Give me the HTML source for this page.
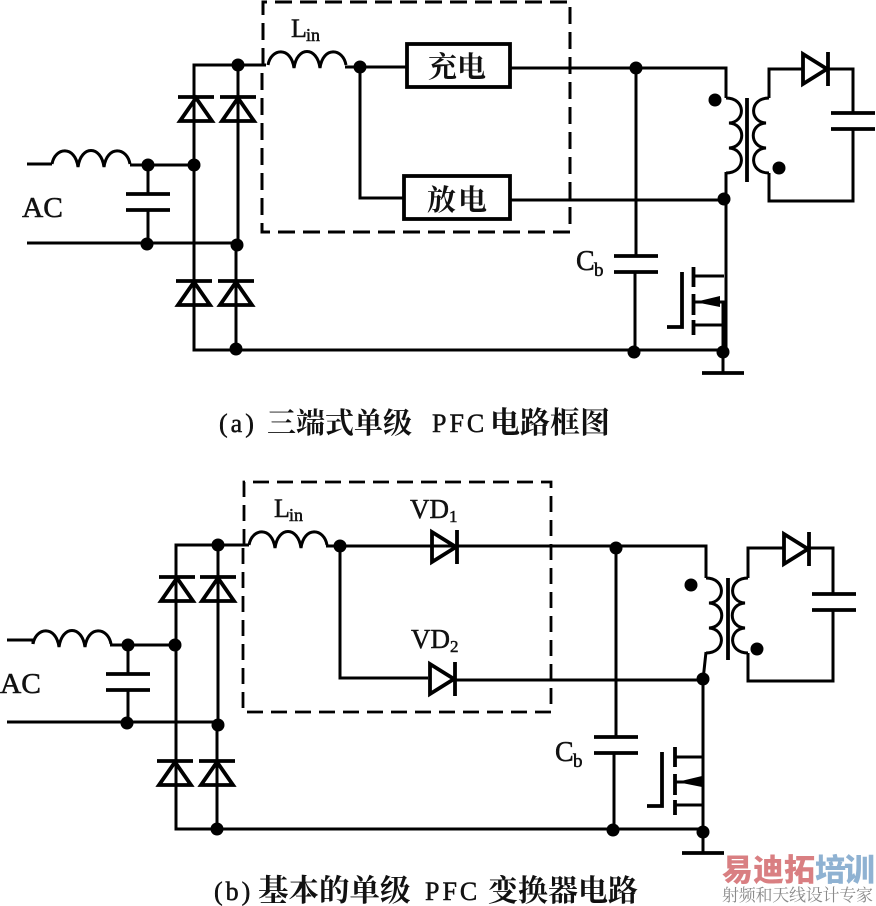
<!DOCTYPE html>
<html><head><meta charset="utf-8"><style>
html,body{margin:0;padding:0;background:#fff}
svg{display:block}
text{font-family:"Liberation Serif","Noto Serif CJK SC",serif;fill:#111}
.s{fill:none;stroke:#000;stroke-width:3}
.t{stroke:#000;stroke-width:3.8;fill:none}
.m{stroke:#111;stroke-width:.5}
.w{letter-spacing:3px}
</style></head><body>
<svg width="876" height="906" viewBox="0 0 876 906" xmlns="http://www.w3.org/2000/svg">
<defs>
<g id="du" class="t"><path d="M-18,0H18"/><path d="M0,1L-16,24H16Z"/></g>
<g id="dr" class="t"><path d="M26,-17V17"/><path d="M25,0L1,-15V15Z"/></g>
<g id="c" class="t"><path d="M-22,0H22M-22,16H22"/></g>
<circle id="d" r="6.500" fill="#000"/>
<path id="lh" class="s" d="M0,0C3,-17 23,-19 26,3C29,-19 49,-19 52,3C55,-19 75,-17 78,0"/>
<path id="lr" class="s" d="M0,0C20,0 20,24 3,25C20,26 20,49 3,50C20,51 20,75 0,75"/>
<path id="ll" class="s" d="M0,0C-20,0 -20,24 -3,25C-20,26 -20,49 -3,50C-20,51 -20,75 0,75"/>
<path id="gnd" class="t" d="M-21,0H21"/>
</defs>

<!-- (a) -->
<path d="M263,65V2H570V232H262V65" fill="none" stroke="#000" stroke-width="3" stroke-dasharray="17 8"/>
<path class="s" d="M194,96V65H266M194,96V350H723M238,65V245M236,245V350M27,164H52M130,165H194M148,165V194M148,210V243M27,243H236M345,67H360M360,67V198H404M360,67H407M510,68H726V98M510,200H724M726,172V352M636,68V256M635,272V352"/>
<use href="#lh" x="52" y="164"/><use href="#lh" x="268" y="65"/>
<use href="#du" x="196" y="97"/><use href="#du" x="238" y="97"/><use href="#du" x="194" y="281"/><use href="#du" x="236" y="281"/>
<use href="#c" x="148" y="194"/><use href="#c" x="636" y="256"/><use href="#c" x="853" y="113"/>
<rect x="407" y="44" width="103" height="43" fill="#fff" stroke="#000" stroke-width="3.8"/>
<rect x="404" y="176" width="106" height="43" fill="#fff" stroke="#000" stroke-width="3.8"/>
<use href="#lr" x="726" y="98"/><path class="t" d="M747,98V182"/><use href="#ll" x="769" y="98"/>
<path class="s" d="M769,98V69H802M828,69H853V113M853,129V201H769V173"/>
<use href="#dr" x="802" y="69"/>
<path class="t" d="M693.500,267V287M693.500,294V315M693.500,320V335M682,272V327H667"/>
<path class="s" d="M694,276H724M694,302H723V352M694,325H723M723,352V373"/>
<path d="M695,302L720,296V307Z" fill="#000"/>
<use href="#gnd" x="723" y="373"/>
<use href="#d" x="148" y="165"/><use href="#d" x="194" y="165"/><use href="#d" x="147" y="244"/><use href="#d" x="237" y="245"/><use href="#d" x="238" y="65"/><use href="#d" x="236" y="349"/><use href="#d" x="360" y="67"/><use href="#d" x="636" y="68"/><use href="#d" x="724" y="199"/><use href="#d" x="634" y="352"/><use href="#d" x="723" y="352"/><use href="#d" x="715" y="100"/><use href="#d" x="779" y="168"/>

<text class="m" x="291" y="37" font-size="26">L</text><text class="m" x="306" y="41" font-size="18">in</text>
<text class="m" x="22" y="217" font-size="28" textLength="41" lengthAdjust="spacingAndGlyphs">AC</text>
<text class="m" x="576" y="270" font-size="28">C</text><text class="m" x="594" y="276" font-size="19">b</text>
<text x="428" y="77" font-size="29" font-weight="700">充电</text>
<text x="427" y="210" font-size="29" font-weight="700" letter-spacing="2">放电</text>
<g font-size="29" font-weight="700">
<text class="m w" x="219" y="432" style="font-size:26px;font-weight:400">(a)</text>
<text x="267" y="433">三端式单级</text>
<text class="m w" x="432" y="432" style="font-size:26px;font-weight:400">PFC</text>
<text x="490" y="433" style="font-size:30px">电路框图</text>
</g>

<!-- (b) -->
<path d="M244,545V482H551V712H243V545" fill="none" stroke="#000" stroke-width="2.800" stroke-dasharray="16 8"/>
<path class="s" d="M176,576V545H249M176,576V829H703M218,545V725M217,725V829M7,640H33V644M110,645H175M128,645V674M128,690V723M7,722H218M326,546H340M340,546V678H428M340,546H706V578M456,680H703M706,652L703,680V832M616,548V737M614,753V830"/>
<use href="#lh" x="33" y="644"/><use href="#lh" x="249" y="545"/>
<use href="#du" x="177" y="577"/><use href="#du" x="218" y="577"/><use href="#du" x="175" y="761"/><use href="#du" x="217" y="761"/>
<use href="#c" x="128" y="674"/><use href="#c" x="616" y="737"/><use href="#c" x="834" y="594"/>
<use href="#dr" x="431" y="547"/><use href="#dr" x="429" y="679"/>
<use href="#lr" x="706" y="578"/><path class="t" d="M728,578V660"/><use href="#ll" x="748" y="578"/>
<path class="s" d="M748,578V548H783M808,548H833V594M833,610V681H748V653"/>
<use href="#dr" x="783" y="549"/>
<path class="t" d="M675,747V767M675,774V795M675,800V815M662,752V806H647"/>
<path class="s" d="M675,757H703M675,782H703V832M675,805H703M703,832V853"/>
<path d="M677,782L702,776V787Z" fill="#000"/>
<use href="#gnd" x="703" y="853"/>
<use href="#d" x="128" y="645"/><use href="#d" x="175" y="645"/><use href="#d" x="127" y="723"/><use href="#d" x="218" y="725"/><use href="#d" x="218" y="545"/><use href="#d" x="217" y="829"/><use href="#d" x="340" y="546"/><use href="#d" x="616" y="548"/><use href="#d" x="703" y="679"/><use href="#d" x="613" y="830"/><use href="#d" x="703" y="832"/><use href="#d" x="691" y="585"/><use href="#d" x="757" y="649"/>

<text class="m" x="274" y="517" font-size="26">L</text><text class="m" x="289" y="521" font-size="18">in</text>
<text class="m" x="0" y="693" font-size="28" textLength="41" lengthAdjust="spacingAndGlyphs">AC</text>
<text class="m" x="555" y="761" font-size="28">C</text><text class="m" x="573" y="767" font-size="19">b</text>
<text class="m" x="410" y="518" font-size="27">VD<tspan font-size="17" dy="4">1</tspan></text>
<text class="m" x="411" y="648" font-size="27">VD<tspan font-size="17" dy="4">2</tspan></text>
<g font-weight="700">
<text class="m w" x="214" y="900" style="font-size:26px;font-weight:400">(b)</text>
<text x="258" y="901" font-size="30.500">基本的单级</text>
<text class="m w" x="425" y="900" style="font-size:26px;font-weight:400">PFC</text>
<text x="488" y="901" font-size="30">变换器电路</text>
</g>

<!-- watermark -->
<text x="722" y="881" font-size="31" font-weight="900" textLength="93" style="fill:#d97f82;font-family:'Noto Sans CJK SC',sans-serif">易迪拓</text>
<text x="815" y="881" font-size="31" font-weight="900" textLength="60" style="fill:#8fb2d2;font-family:'Noto Sans CJK SC',sans-serif">培训</text>
<text x="722" y="901" font-size="17" textLength="151" style="fill:#8a8a8a">射频和天线设计专家</text>
</svg>
</body></html>
